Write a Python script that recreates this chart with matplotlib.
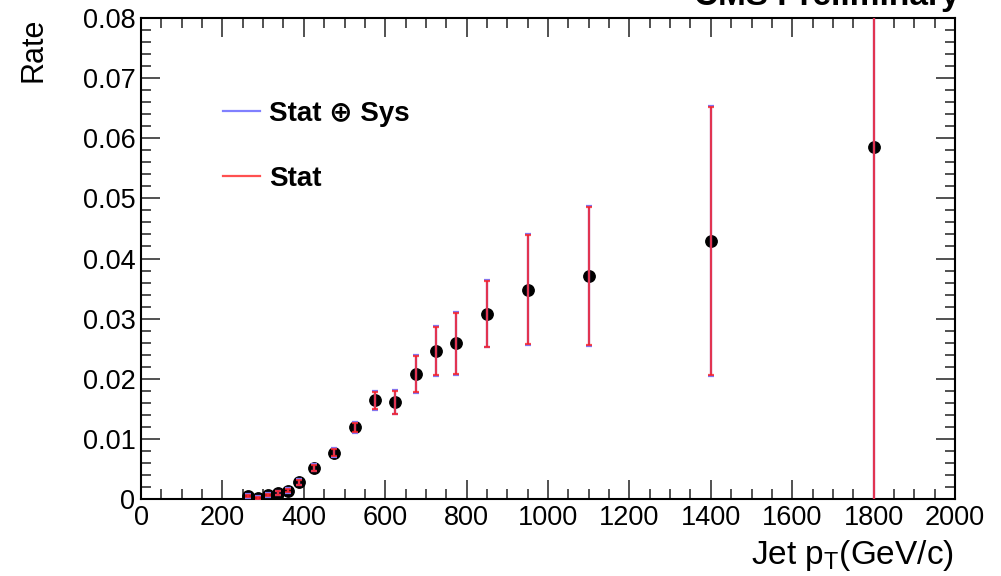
import matplotlib
matplotlib.use("Agg")
import matplotlib.pyplot as plt
from matplotlib.lines import Line2D
from matplotlib.ticker import MultipleLocator
import numpy as np

plt.rcParams['font.family'] = ['Liberation Sans', 'DejaVu Sans']

# jet pT bin centres (GeV/c) and measured rate
pt = [262, 287, 312, 337, 362, 387, 425, 475, 525, 575, 625, 675,
      725, 775, 850, 950, 1100, 1400, 1800]
rate = [0.0005, 0.0002, 0.0007, 0.0010, 0.0014, 0.0028, 0.0052, 0.0077,
        0.0119, 0.0164, 0.0161, 0.0208, 0.0246, 0.0259, 0.0308, 0.0348,
        0.0371, 0.0429, 0.0585]
# statistical error and stat (+) sys combined error
err_stat = [0.0002, 0.0002, 0.0002, 0.0003, 0.0003, 0.0004, 0.0005, 0.0006,
            0.0008, 0.0014, 0.0019, 0.0030, 0.0040, 0.0051, 0.0055, 0.0091,
            0.0115, 0.0223, 0.0700]
err_tot = [0.0003, 0.0003, 0.0003, 0.0003, 0.0004, 0.0005, 0.0006, 0.0007,
           0.0009, 0.0016, 0.0020, 0.0031, 0.0041, 0.0052, 0.0056, 0.0092,
           0.0116, 0.0224, 0.0700]

blue = "#7b7bff"
red = "#ff2020"

fig = plt.figure(figsize=(10.01, 5.76), dpi=100)
ax = fig.add_axes([0.1409, 0.1337, 0.8132, 0.835])

ax.plot(pt, rate, "o", color="black", markersize=8.2, zorder=3)
# error bars are drawn over the markers, as ROOT does
ax.errorbar(pt, rate, yerr=err_tot, fmt="none", ecolor=blue, elinewidth=1.6,
            capsize=2.5, capthick=1.6, zorder=4)
ax.errorbar(pt, rate, yerr=err_stat, fmt="none", ecolor=red, elinewidth=1.6,
            capsize=2.5, capthick=1.6, alpha=0.78, zorder=5)

ax.set_xlim(0, 2000)
ax.set_ylim(0, 0.08)
ax.xaxis.set_major_locator(MultipleLocator(200))
ax.xaxis.set_minor_locator(MultipleLocator(50))
ax.yaxis.set_minor_locator(MultipleLocator(0.002))
ax.set_yticks(np.arange(0, 0.081, 0.01))
ax.set_yticklabels(["0", "0.01", "0.02", "0.03", "0.04", "0.05", "0.06", "0.07", "0.08"])

ax.tick_params(which="both", direction="in", top=True, right=True,
               labelsize=19.5, width=1.2, color="#333333")
ax.tick_params(which="major", length=14, pad=4)
ax.tick_params(which="minor", length=7)
for s in ax.spines.values():
    s.set_linewidth(1.5)

ax.set_ylabel("Rate", fontsize=22)
ax.yaxis.set_label_coords(-0.114, 1.0)
ax.yaxis.label.set_ha("right")
ax.set_xlabel("Jet p$_\\mathregular{T}$(GeV/c)", fontsize=24)
ax.xaxis.set_label_coords(0.998, -0.082)
ax.xaxis.label.set_ha("right")

handles = [Line2D([], [], color="#8080ff", lw=1.6), Line2D([], [], color="#ff5050", lw=1.6)]
leg = ax.legend(handles, ["Stat \u2295 Sys", "Stat"], loc="upper left",
                bbox_to_anchor=(0.0835, 0.857), frameon=False, borderpad=0,
                handlelength=1.35, handletextpad=0.3, labelspacing=1.4,
                prop={"size": 20, "weight": "bold"})

fig.text(0.959, 0.991, "CMS Preliminary", ha="right", va="baseline",
         fontsize=24, fontweight="bold")

fig.savefig("out.png", dpi=100)
